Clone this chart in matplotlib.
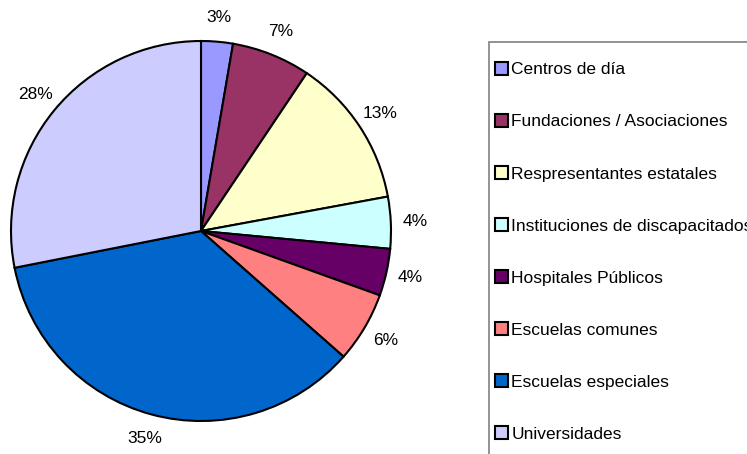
import matplotlib
matplotlib.use("Agg")
import matplotlib.pyplot as plt
from matplotlib.patches import Rectangle

plt.rcParams['font.family'] = ['Liberation Sans', 'DejaVu Sans']

categories = ["Centros de día", "Fundaciones / Asociaciones", "Respresentantes estatales",
              "Instituciones de discapacitados", "Hospitales Públicos", "Escuelas comunes",
              "Escuelas especiales", "Universidades"]
values = [2.7, 6.7, 12.7, 4.4, 4.0, 6.0, 35.4, 28.1]
colors = ["#9999FF", "#993366", "#FFFFCC", "#CCFFFF", "#660066", "#FF8080", "#0066CC", "#CCCCFF"]

W, H = 747, 454
FS = 12.5
fig = plt.figure(figsize=(W / 100, H / 100), dpi=100)
cx, cy, r = 201, 231, 190
ax = fig.add_axes([(cx - r) / W, (H - cy - r) / H, 2 * r / W, 2 * r / H])

wedges, texts, autotexts = ax.pie(values, colors=colors, startangle=90, counterclock=False,
                                  autopct='%.0f%%', pctdistance=1.13,
                                  wedgeprops=dict(edgecolor='black', linewidth=1.5))
for t in autotexts:
    t.set_fontsize(FS)
    t.set_color('black')
ax.set_xlim(-1, 1)
ax.set_ylim(-1, 1)
ax.set_aspect('equal')

# legend frame (extends past the figure edge, as in the reference)
fig.patches.append(Rectangle((489 / W, -0.1), 0.5, (H - 42) / H + 0.1,
                             transform=fig.transFigure, facecolor='none',
                             edgecolor='#808080', linewidth=1.2, zorder=0))

leg = fig.legend(wedges, categories, loc='upper left',
                 bbox_to_anchor=(495 / W, 1 - 62 / H), bbox_transform=fig.transFigure,
                 fontsize=FS, frameon=False,
                 handlelength=0.75, handleheight=0.75, handletextpad=0.2,
                 labelspacing=2.11, borderpad=0, borderaxespad=0)
for h in leg.legend_handles:
    h.set_edgecolor('black')
    h.set_linewidth(1.5)

fig.savefig("out.png", dpi=100)
